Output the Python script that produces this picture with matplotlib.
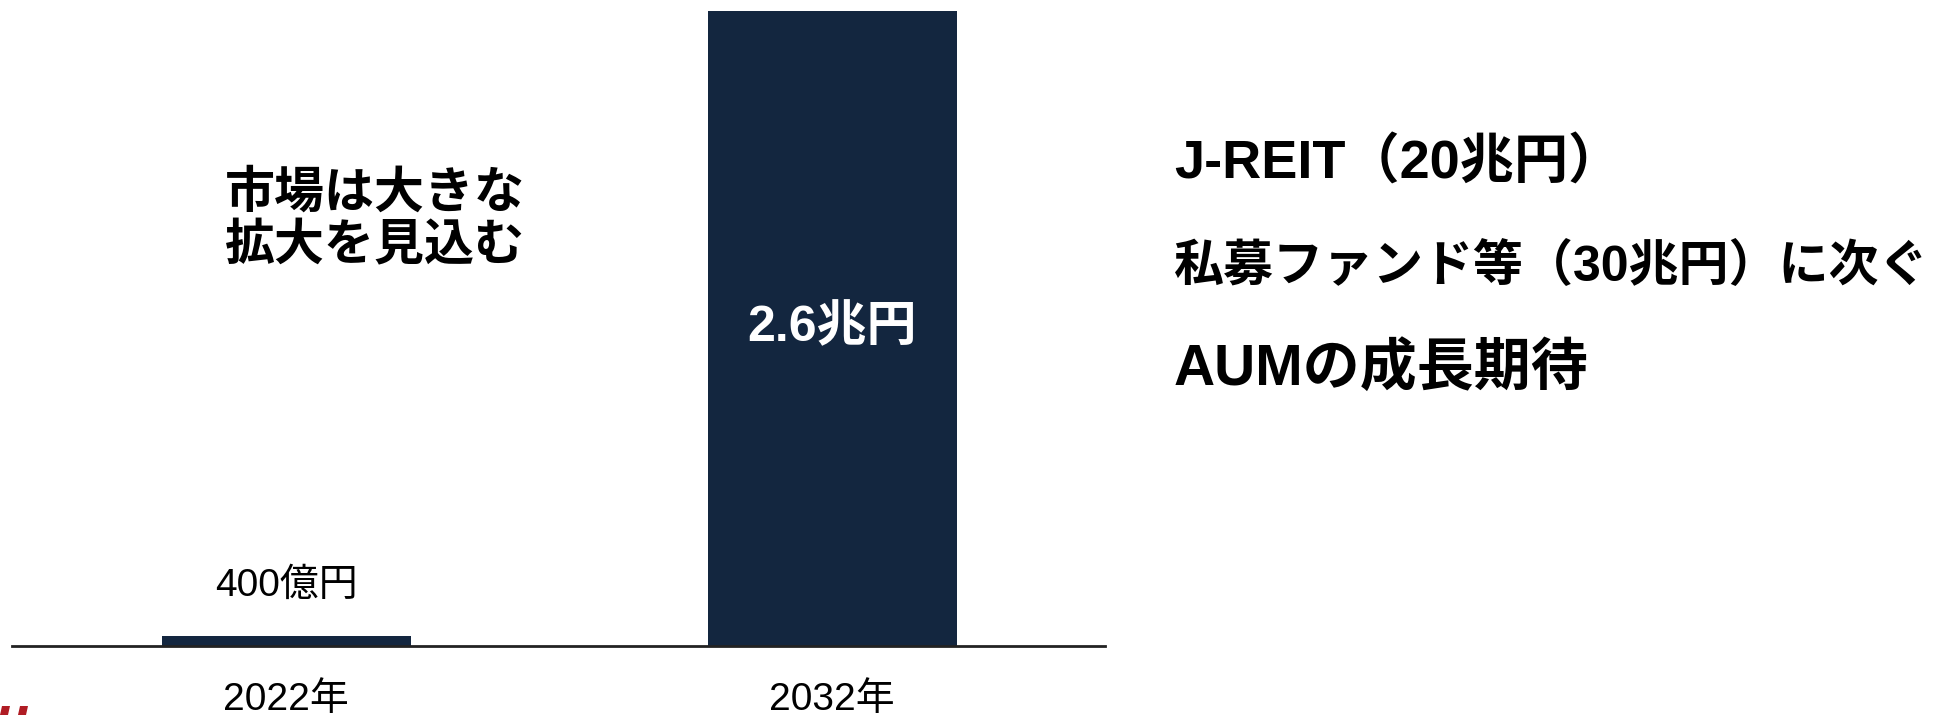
import matplotlib
matplotlib.use("Agg")
import matplotlib.pyplot as plt
from matplotlib.patches import Polygon

plt.rcParams['font.family'] = ['Liberation Sans', 'Noto Sans CJK JP', 'DejaVu Sans']

categories = ['2022年', '2032年']
values = [0.04, 2.6]          # 兆円
value_labels = ['400億円', '2.6兆円']
callout = '市場は大きな\n拡大を見込む'
side_lines = ['J-REIT（20兆円）', '私募ファンド等（30兆円）に次ぐ', 'AUMの成長期待']

W, H = 1946, 715
fig = plt.figure(figsize=(W / 100, H / 100), dpi=100)
ax = fig.add_axes([12 / W, (H - 645.7) / H, (1105 - 12) / W, (645.7 - 11) / H])

bar_color = '#13263F'
x = list(range(len(categories)))
ax.bar(x, values, width=0.456, color=bar_color, zorder=2)
ax.set_xlim(-0.502, 1.5)
ax.set_ylim(0, 2.6)

for s in ['top', 'right', 'left']:
    ax.spines[s].set_visible(False)
ax.spines['bottom'].set_linewidth(2)
ax.spines['bottom'].set_color('#222222')
ax.set_yticks([])
ax.set_xticks(x)
ax.set_xticklabels(categories, fontsize=28)
ax.tick_params(axis='x', length=0, pad=26)

# value labels
ax.annotate(value_labels[0], (x[0], values[0]), xytext=(0, 36), textcoords='offset points',
            ha='center', va='center', fontsize=28, color='black')
ax.text(x[1], values[1] / 2, value_labels[1], ha='center', va='center',
        fontsize=36, fontweight='bold', color='white')

# callout
fig.text(375 / W, 1 - 220 / H, callout, ha='center', va='center', fontsize=36,
         fontweight='bold', linespacing=1.15)

# side text
sizes = [39, 36, 41]
for line, yp, fs in zip(side_lines, [164, 267, 369], sizes):
    fig.text(1174 / W, 1 - yp / H, line, ha='left', va='center', fontsize=fs,
             fontweight='bold')

# red logo fragment at bottom-left
red = '#B01C24'
for x0 in [0, 18]:
    pts = [(x0 + 2, 706), (x0 + 10, 706), (x0 + 8, 715), (x0, 715)]
    fig.patches.append(Polygon([(px / W, 1 - py / H) for px, py in pts], closed=True,
                               transform=fig.transFigure, facecolor=red, edgecolor='none'))

fig.savefig('out.png', dpi=100)
